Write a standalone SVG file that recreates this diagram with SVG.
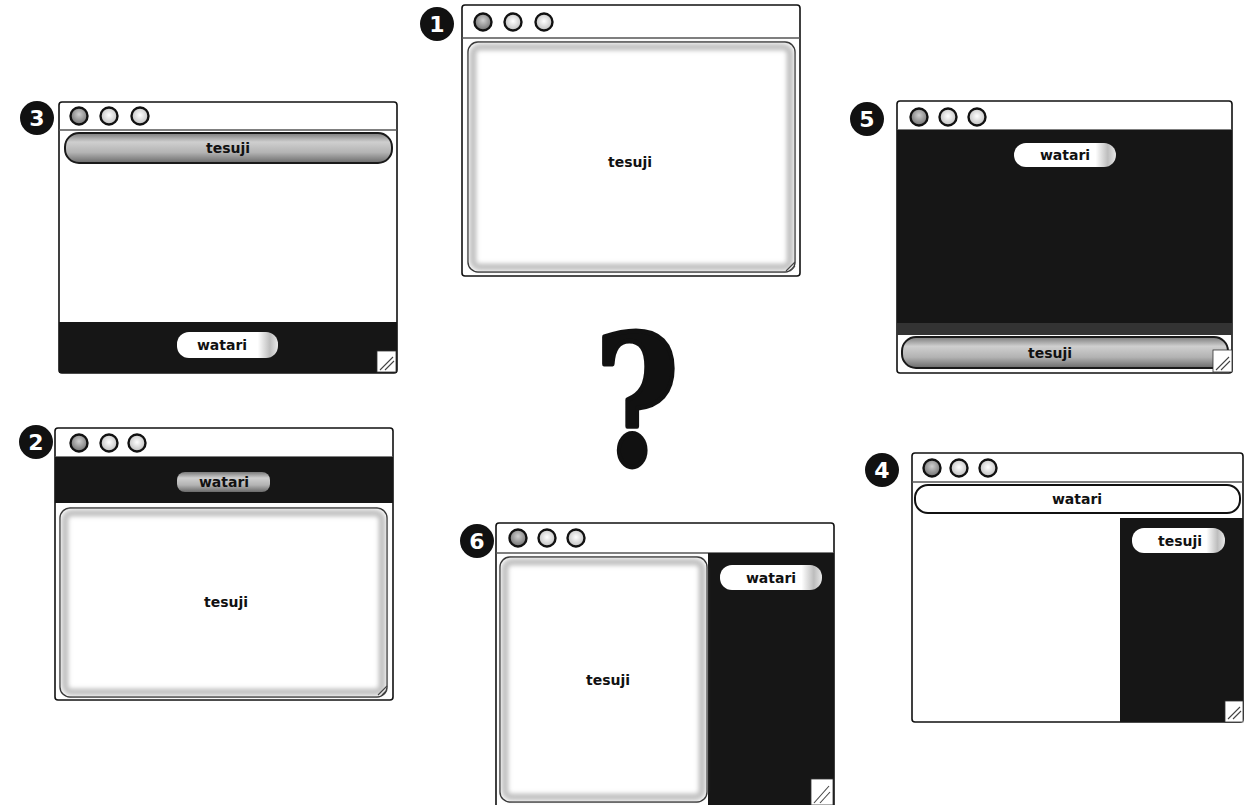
<svg xmlns="http://www.w3.org/2000/svg" width="1245" height="805" viewBox="0 0 1245 805">
<defs>
<linearGradient id="pillGrey" x1="0" y1="0" x2="0" y2="1">
<stop offset="0" stop-color="#7a7a7a"/><stop offset="0.3" stop-color="#cfcfcf"/><stop offset="0.65" stop-color="#b3b3b3"/><stop offset="1" stop-color="#6a6a6a"/>
</linearGradient>
<linearGradient id="pillEnd" x1="0" y1="0" x2="1" y2="0">
<stop offset="0" stop-color="#fff"/><stop offset="0.8" stop-color="#fff"/><stop offset="0.92" stop-color="#bdbdbd"/><stop offset="1" stop-color="#e8e8e8"/>
</linearGradient>
<radialGradient id="btnDark" cx="0.5" cy="0.4" r="0.6">
<stop offset="0" stop-color="#cfcfcf"/><stop offset="1" stop-color="#6f6f6f"/>
</radialGradient>
<radialGradient id="btnLight" cx="0.5" cy="0.45" r="0.6">
<stop offset="0" stop-color="#ffffff"/><stop offset="1" stop-color="#b8b8b8"/>
</radialGradient>
<filter id="soft" x="-20%" y="-20%" width="140%" height="140%"><feGaussianBlur stdDeviation="2"/></filter>
<style>
.frame{fill:#fff;stroke:#111;stroke-width:1.6}
.sep{stroke:#555;stroke-width:1.3}
.btn{stroke:#111;stroke-width:2.4}
.b1{fill:url(#btnDark)}
.b2{fill:url(#btnLight)}
.dark{fill:#161616}
.panel{fill:#fff;stroke:#222;stroke-width:1.4}
.edge{fill:none;stroke:#c2c2c2;stroke-width:7;filter:url(#soft)}
.label{font-family:"DejaVu Sans","Liberation Sans",sans-serif;font-weight:bold;font-size:14px;fill:#111;text-anchor:middle}
.badge{fill:#111}
.num{font-family:"DejaVu Sans","Liberation Sans",sans-serif;font-weight:bold;font-size:22px;fill:#fff;text-anchor:middle}
.pillGrey{fill:url(#pillGrey);stroke:#1a1a1a;stroke-width:2}
.pillWhite{fill:url(#pillEnd)}
.pillOutline{fill:#fff;stroke:#111;stroke-width:2}
.resize{fill:#fff;stroke:#333;stroke-width:0.8}
.grip{stroke:#444;stroke-width:1.1}
.qm{font-family:"DejaVu Serif","Liberation Serif",serif;font-weight:bold;font-size:180px;fill:#111;stroke:#111;stroke-width:5;stroke-linejoin:round;text-anchor:middle}
</style>
</defs>
<rect width="1245" height="805" fill="#fff"/>

<g id="window1">
<rect class="frame" x="462" y="5" width="338" height="271" rx="3"/>
<line class="sep" x1="462" y1="38" x2="800" y2="38"/>
<circle class="btn b1" cx="483" cy="22" r="8.5"/>
<circle class="btn b2" cx="513" cy="22" r="8.5"/>
<circle class="btn b2" cx="544" cy="22" r="8.5"/>
<rect class="panel" x="468" y="42" width="327" height="230" rx="10"/>
<rect class="edge" x="473" y="47" width="317" height="220" rx="7"/>
<text class="label" x="630" y="167">tesuji</text>
<line class="grip" x1="786" y1="271" x2="795" y2="262"/>
<line class="grip" x1="790" y1="271" x2="795" y2="266"/>
</g>

<g id="window3">
<rect class="frame" x="59" y="102" width="338" height="271" rx="3"/>
<line class="sep" x1="59" y1="130" x2="397" y2="130"/>
<circle class="btn b1" cx="79" cy="116" r="8.5"/>
<circle class="btn b2" cx="109" cy="116" r="8.5"/>
<circle class="btn b2" cx="140" cy="116" r="8.5"/>
<rect class="pillGrey" x="65" y="133" width="327" height="30" rx="14"/>
<text class="label" x="228" y="153">tesuji</text>
<rect class="dark" x="59" y="322" width="338" height="51"/>
<rect class="pillWhite" x="177" y="332" width="101" height="26" rx="12"/>
<text class="label" x="222" y="350">watari</text>
<rect class="resize" x="377" y="351" width="19" height="21"/>
<line class="grip" x1="380" y1="370" x2="393" y2="357"/>
<line class="grip" x1="385" y1="370" x2="394" y2="361"/>
</g>

<g id="window5">
<rect class="frame" x="897" y="101" width="335" height="272" rx="3"/>
<line class="sep" x1="897" y1="130" x2="1232" y2="130"/>
<rect class="dark" x="897" y="130" width="335" height="205"/>
<rect x="897" y="323" width="335" height="12" fill="#333"/>
<circle class="btn b1" cx="919" cy="117" r="8.5"/>
<circle class="btn b2" cx="948" cy="117" r="8.5"/>
<circle class="btn b2" cx="977" cy="117" r="8.5"/>
<rect class="pillWhite" x="1014" y="143" width="102" height="24" rx="12"/>
<text class="label" x="1065" y="160">watari</text>
<rect class="pillGrey" x="902" y="337" width="326" height="31" rx="14"/>
<text class="label" x="1050" y="358">tesuji</text>
<rect class="resize" x="1213" y="350" width="19" height="22"/>
<line class="grip" x1="1216" y1="370" x2="1229" y2="357"/>
<line class="grip" x1="1221" y1="370" x2="1230" y2="361"/>
</g>

<g id="window2">
<rect class="frame" x="55" y="428" width="338" height="272" rx="3"/>
<line class="sep" x1="55" y1="457" x2="393" y2="457"/>
<circle class="btn b1" cx="79" cy="443" r="8.5"/>
<circle class="btn b2" cx="109" cy="443" r="8.5"/>
<circle class="btn b2" cx="137" cy="443" r="8.5"/>
<rect class="dark" x="55" y="457" width="338" height="46"/>
<rect x="177" y="472" width="93" height="20" rx="8" fill="url(#pillGrey)"/>
<text class="label" x="224" y="487">watari</text>
<rect class="panel" x="60" y="508" width="327" height="189" rx="10"/>
<rect class="edge" x="65" y="513" width="317" height="179" rx="7"/>
<text class="label" x="226" y="607">tesuji</text>
<line class="grip" x1="378" y1="695" x2="387" y2="686"/>
<line class="grip" x1="382" y1="695" x2="387" y2="690"/>
</g>

<g id="window6">
<rect class="frame" x="496" y="523" width="338" height="292" rx="3"/>
<line class="sep" x1="496" y1="553" x2="834" y2="553"/>
<circle class="btn b1" cx="518" cy="538" r="8.5"/>
<circle class="btn b2" cx="547" cy="538" r="8.5"/>
<circle class="btn b2" cx="576" cy="538" r="8.5"/>
<rect class="dark" x="708" y="553" width="126" height="252"/>
<rect class="panel" x="500" y="557" width="207" height="245" rx="10"/>
<rect class="edge" x="505" y="562" width="197" height="235" rx="7"/>
<rect class="pillWhite" x="720" y="565" width="102" height="25" rx="12"/>
<text class="label" x="771" y="583">watari</text>
<text class="label" x="608" y="685">tesuji</text>
<rect class="resize" x="811" y="779" width="22" height="26"/>
<line class="grip" x1="814" y1="803" x2="829" y2="786"/>
<line class="grip" x1="820" y1="803" x2="830" y2="792"/>
</g>

<g id="window4">
<rect class="frame" x="912" y="453" width="331" height="269" rx="3"/>
<line class="sep" x1="912" y1="482" x2="1243" y2="482"/>
<circle class="btn b1" cx="932" cy="468" r="8.5"/>
<circle class="btn b2" cx="959" cy="468" r="8.5"/>
<circle class="btn b2" cx="988" cy="468" r="8.5"/>
<rect class="pillOutline" x="915" y="485" width="325" height="28" rx="13"/>
<text class="label" x="1077" y="504">watari</text>
<rect class="dark" x="1120" y="518" width="123" height="204"/>
<rect class="pillWhite" x="1132" y="528" width="93" height="25" rx="12"/>
<text class="label" x="1180" y="546">tesuji</text>
<rect class="resize" x="1225" y="701" width="18" height="21"/>
<line class="grip" x1="1228" y1="719" x2="1240" y2="707"/>
<line class="grip" x1="1233" y1="719" x2="1241" y2="711"/>
</g>

<g id="badges">
<g id="badge1"><circle class="badge" cx="437" cy="24" r="17"/><text class="num" x="437" y="32">1</text></g>
<g id="badge3"><circle class="badge" cx="37" cy="118" r="17"/><text class="num" x="37" y="126">3</text></g>
<g id="badge5"><circle class="badge" cx="867" cy="119" r="17"/><text class="num" x="867" y="127">5</text></g>
<g id="badge2"><circle class="badge" cx="36" cy="442" r="17"/><text class="num" x="36" y="450">2</text></g>
<g id="badge4"><circle class="badge" cx="882" cy="470" r="17"/><text class="num" x="882" y="478">4</text></g>
<g id="badge6"><circle class="badge" cx="477" cy="541" r="17"/><text class="num" x="477" y="549">6</text></g>
</g>

<g id="question">
<text class="qm" transform="translate(637,464) scale(0.8,1)" x="0" y="0">?</text>
</g>
<g id="connectors"/>
</svg>
